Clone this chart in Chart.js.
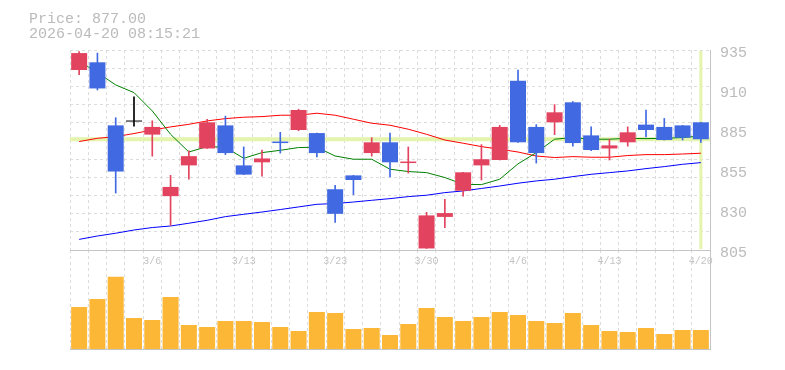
<!DOCTYPE html>
<html><head><meta charset="utf-8">
<script src="https://cdn.jsdelivr.net/npm/chart.js@4.4.1/dist/chart.umd.min.js"></script>
<style>
html,body{margin:0;padding:0;background:#fff;}
#wrap{position:relative;width:785px;height:370px;overflow:hidden;background:#fff;}
#wrap canvas{position:absolute;left:0;top:0;}
#hdr{position:absolute;left:29px;top:12px;font:15px/15px "Liberation Mono",monospace;color:#bbbbbb;white-space:pre;}
</style></head><body>
<div id="wrap">
<canvas id="vol" width="785" height="370"></canvas>
<canvas id="price" width="785" height="370"></canvas>
<div id="hdr">Price: 877.00
2026-04-20 08:15:21</div>
</div>
<script>
const dates = ['3/2','3/3','3/4','3/5','3/6','3/9','3/10','3/11','3/12','3/13','3/16','3/17','3/18','3/19','3/23','3/24','3/25','3/26','3/27','3/30','3/31','4/1','4/2','4/3','4/6','4/7','4/8','4/9','4/10','4/13','4/14','4/15','4/16','4/17','4/20'];
const shownDates = ['3/6','3/13','3/23','3/30','4/6','4/13','4/20'];
const opens  = [922,927,886,888.5,880,840,860,871,886,860,862,875.5,883,881,844.5,853.5,868,875,861.5,806,826.5,843.5,860,863.5,915,885,888,901,879.5,871,875,886.5,885,886,888];
const highs  = [934,933,891,904.5,889,853.5,869.5,890,892,872,870,881.5,896.5,881,847,853.5,878,881,872,829.5,838,855.5,873.5,886,922,886.5,899.5,901.5,885,877,885,896,890.5,886,888];
const lows   = [919,909,842,885.5,866,821,851,871,867,854,853,868,882.5,865.5,823,841,866,852.5,855,806,819.5,840,850.5,863.5,875,861.5,880,872.5,869.5,863.5,872.5,878.5,876.5,876.5,875];
const closes = [933,910,856,888.5,885,846,866,888,868,854,864.5,874.5,896,868,828.5,850.5,875,862,862.5,827.5,829,855.5,864,885,875,868,894.5,874.5,870,873,881.5,883,876.5,878,877];
const ma5  = [927.8,920.3,912.3,907.3,895.4,880.2,868.7,872.2,871.8,864.6,868.3,869.8,871.6,871.8,866.1,864.0,864.0,857.5,856.0,855.3,852.1,847.7,847.5,851.0,861.0,868.3,877.0,878.1,877.0,877.0,877.6,877.4,877.6,878.1,879.1];
const ma25 = [875.5,877.6,878.7,880.7,883.0,885.0,886.7,888.9,890.4,891.3,891.7,892.6,892.6,893.9,892.6,890.0,887.4,886.1,883.5,880.2,876.5,874.4,872.2,870.5,868.7,866.1,865.1,865.7,865.3,865.3,866.4,867.0,867.0,867.4,867.9];
const ma75 = [811.9,814.1,815.9,818.0,819.6,820.6,822.4,824.3,826.7,828.2,829.7,831.3,833.0,834.7,835.2,836.2,837.3,838.4,839.7,840.6,842.3,843.4,845.0,846.6,848.4,849.9,851.0,852.7,854.2,855.3,856.4,857.9,859.2,860.7,861.8];
const volumes = [42000,50000,72300,31000,29000,52000,24000,22000,28000,28000,27000,22000,18000,37000,36000,20000,21000,14000,25000,41000,32000,28000,32000,37000,34000,28000,26000,36000,24000,18000,17000,21000,15000,19000,19000];
const priceTickValues = [805,831,857,883,909,935];
const priceTickLabels = ['805','830','855','885','910','935'];
const priceGridValues = [805,816.82,828.64,840.45,852.27,864.09,875.91,887.73,899.55,911.36,923.18,935];
const currentPrice = 877;

const RED = '#e2445f', BLUE = '#4169e1', DOJI = '#000000';
const GRID = '#dcdcdc', AXIS = '#c4c4c4', TXT = '#bbbbbb', BAND = '#e4f4ac';
const candleColors = closes.map((c, i) => c > opens[i] ? RED : (c < opens[i] ? BLUE : DOJI));
const bodies = opens.map((o, i) => [o, closes[i]]);
const wicks = lows.map((l, i) => [l, highs[i]]);

const bandPlugin = {
  id: 'bands',
  beforeDatasetsDraw(chart) {
    const {ctx, chartArea: a, scales} = chart;
    const yp = scales.y.getPixelForValue(currentPrice);
    const xp = scales.x.getPixelForValue(dates.length - 1);
    ctx.save();
    ctx.fillStyle = BAND;
    ctx.fillRect(a.left, yp - 2, a.right - a.left, 4);
    ctx.fillRect(xp - 1.5, a.top + 1, 3, a.bottom - a.top - 2);
    ctx.restore();
  }
};

new Chart(document.getElementById('vol'), {
  type: 'bar',
  data: { labels: dates, datasets: [{ data: volumes, backgroundColor: '#fbb735', barPercentage: 0.875, categoryPercentage: 1 }] },
  options: {
    responsive: false, animation: false,
    layout: { padding: { left: 70, top: 250, right: 0, bottom: 21 } },
    plugins: { legend: { display: false }, tooltip: { enabled: false } },
    scales: {
      x: { offset: true, grid: { offset: true, color: GRID, drawTicks: false }, border: { display: true, color: AXIS, dash: [3, 3] },
           ticks: { display: false }, afterFit: s => { s.height = 0; } },
      y: { position: 'right', min: 0, max: 99000, ticks: { display: false }, grid: { display: false, drawTicks: false },
           border: { display: true, color: AXIS }, afterFit: s => { s.width = 75; } }
    }
  }
});

new Chart(document.getElementById('price'), {
  type: 'bar',
  data: {
    labels: dates,
    datasets: [
      { type: 'line', data: ma75, borderColor: '#0000ff', borderWidth: 1, pointRadius: 0, tension: 0, order: 5, yAxisID: 'y' },
      { type: 'line', data: ma25, borderColor: '#ff0000', borderWidth: 1, pointRadius: 0, tension: 0, order: 4, yAxisID: 'y' },
      { type: 'line', data: ma5, borderColor: '#008000', borderWidth: 1, pointRadius: 0, tension: 0, order: 3, yAxisID: 'y' },
      { type: 'bar', data: wicks, backgroundColor: candleColors, barThickness: 1, grouped: false, order: 2, yAxisID: 'y' },
      { type: 'bar', data: bodies, backgroundColor: candleColors, barPercentage: 0.875, categoryPercentage: 1, minBarLength: 1, grouped: false, order: 1, yAxisID: 'y' }
    ]
  },
  options: {
    responsive: false, animation: false,
    layout: { padding: { left: 70, top: 50, right: 0, bottom: 100 } },
    plugins: { legend: { display: false }, tooltip: { enabled: false } },
    scales: {
      x: { offset: true, grid: { offset: true, color: GRID, drawTicks: false }, border: { display: true, color: AXIS, dash: [3, 3] },
           ticks: { autoSkip: false, maxRotation: 0, padding: 5, color: '#c4c4c4', font: { family: 'Liberation Mono', size: 10 },
                    callback: (v, i) => shownDates.includes(dates[i]) ? dates[i] : '' },
           afterFit: s => { s.height = 20; } },
      yGrid: { type: 'linear', position: 'right', min: 805, max: 935,
               afterBuildTicks: s => { s.ticks = priceGridValues.map(v => ({ value: v })); },
               ticks: { display: false }, grid: { color: GRID, drawTicks: false }, border: { display: false, dash: [3, 3] },
               afterFit: s => { s.width = 0; } },
      y: { type: 'linear', position: 'right', min: 805, max: 935,
           afterBuildTicks: s => { s.ticks = priceTickValues.map(v => ({ value: v })); },
           ticks: { padding: 10, labelOffset: 3, color: TXT, font: { family: 'Liberation Mono', size: 15 }, callback: (v, i) => priceTickLabels[i] },
           grid: { display: false, drawTicks: false }, border: { display: true, color: AXIS },
           afterFit: s => { s.width = 75; } }
    }
  },
  plugins: [bandPlugin]
});
</script>
</body></html>
